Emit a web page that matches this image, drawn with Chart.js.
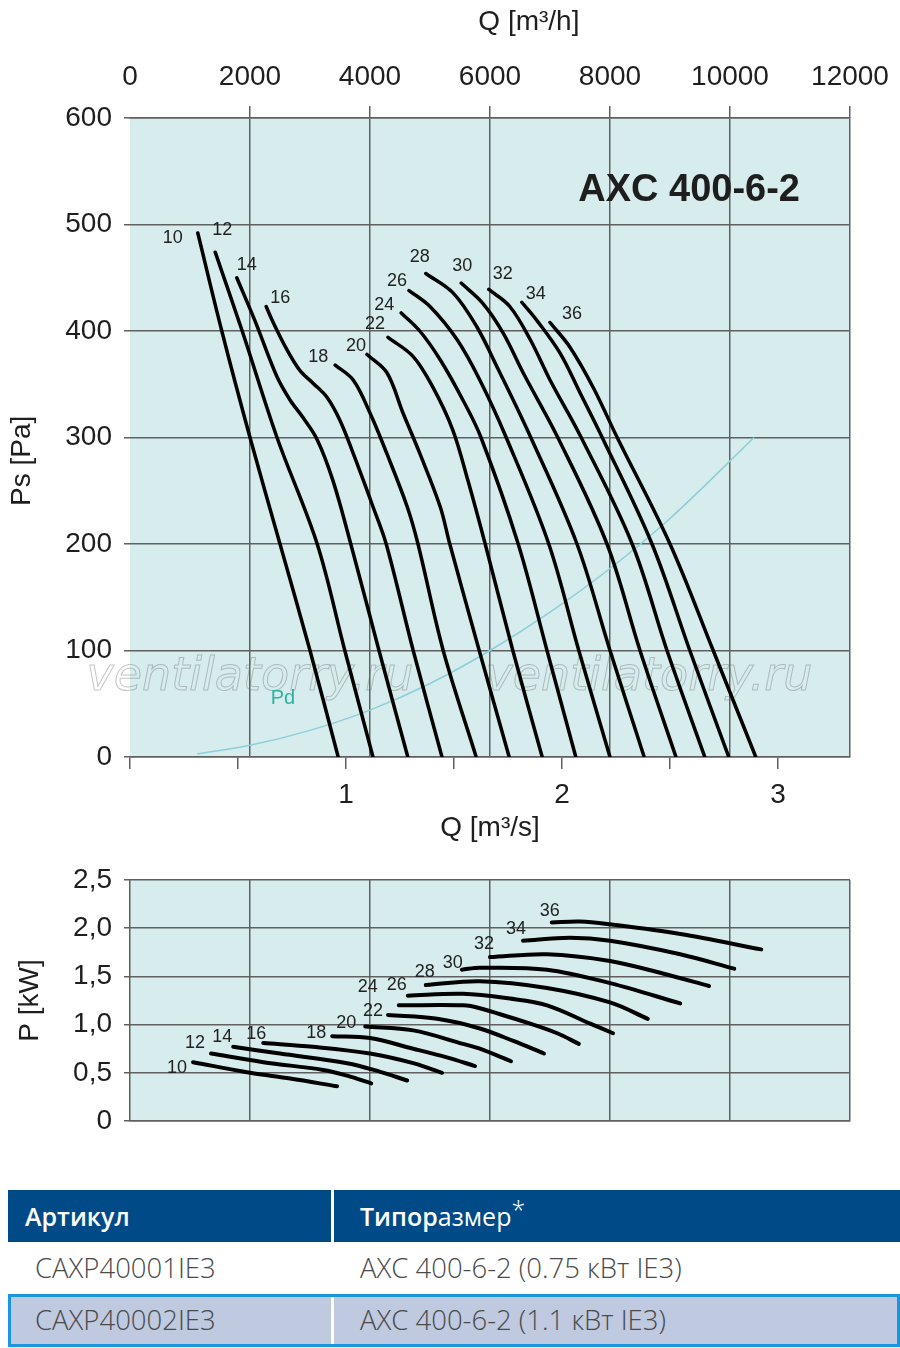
<!DOCTYPE html>
<html>
<head>
<meta charset="utf-8">
<script src="https://cdn.jsdelivr.net/npm/chart.js@4.4.0/dist/chart.umd.min.js"></script>
<style>
body { margin: 0; width: 900px; height: 1348px; background: #fff; position: relative; overflow: hidden; }
#topBox { position: absolute; left: 0; top: 0; width: 900px; height: 850px; }
#botBox { position: absolute; left: 0; top: 850px; width: 900px; height: 300px; }
.cell { position: absolute; font-family: "Open Sans", "Noto Sans", sans-serif; white-space: nowrap; }
.head { background: #004a87; color: #fff; font-size: 25px; font-weight: 600; }
.row { color: #4a4a4a; font-size: 27.5px; font-weight: 300; }
.star { position: relative; top: -7px; font-weight: 300; }
</style>
</head>
<body>
<div id="topBox"><canvas id="psChart"></canvas></div>
<div id="botBox"><canvas id="pwChart"></canvas></div>

<!-- table -->
<div class="cell head" style="left:8px;top:1190px;width:892px;height:52px;"></div>
<div class="cell" style="left:331px;top:1190px;width:3px;height:52px;background:#fff;"></div>
<div class="cell head" style="left:25px;top:1190px;height:52px;line-height:52px;background:none;">Артикул</div>
<div class="cell head" style="left:360px;top:1190px;height:52px;line-height:52px;background:none;"><span style="font-weight:600">Типор</span><span style="font-weight:400">азмер</span><span class="star">*</span></div>

<div class="cell row" style="left:35px;top:1242px;line-height:52px;">CAXP40001IE3</div>
<div class="cell row" style="left:360px;top:1242px;line-height:52px;">AXC 400-6-2 (0.75 кВт IE3)</div>

<div class="cell" style="left:8px;top:1294px;width:886px;height:47px;background:#bfc9e0;border:3px solid #1b95de;"></div>
<div class="cell" style="left:331px;top:1297px;width:3px;height:47px;background:#fff;"></div>
<div class="cell row" style="left:35px;top:1294px;line-height:52px;">CAXP40002IE3</div>
<div class="cell row" style="left:360px;top:1294px;line-height:52px;">AXC 400-6-2 (1.1 кВт IE3)</div>

<script>
// fan speeds (curve labels)
const speeds = [10, 12, 14, 16, 18, 20, 22, 24, 26, 28, 30, 32, 34, 36];

// Ps [Pa] against Q [m3/h]
const ps10 = [[1130,492],[1530,400],[2000,300],[2500,200],[3000,100],[3470,0]];
const ps12 = [[1420,474],[1870,400],[2450,300],[3120,200],[3580,100],[4050,0]];
const ps14 = [[1780,450],[2080,410],[2450,357],[2670,335],[2880,319],[3120,298],[3380,260],[3680,200],[4150,100],[4630,0]];
const ps16 = [[2270,423],[2370,410],[2620,382],[2830,363],[3050,351],[3280,338],[3500,316],[3720,285],[4050,235],[4270,200],[4720,100],[5200,0]];
const ps18 = [[3420,368],[3720,354],[4000,323],[4280,285],[4620,235],[4800,200],[5220,100],[5770,0]];
const ps20 = [[3950,378],[4280,361],[4550,323],[4830,285],[5170,235],[5330,200],[5820,100],[6320,0]];
const ps22 = [[4300,394],[4720,376],[5050,347],[5380,307],[5630,260],[5920,200],[6380,100],[6870,0]];
const ps24 = [[4520,417],[4830,400],[5170,373],[5550,335],[5850,300],[6470,200],[6950,100],[7430,0]];
const ps26 = [[4650,438],[5000,423],[5450,392],[5830,354],[6270,300],[6980,200],[7480,100],[8000,0]];
const ps28 = [[4930,454],[5380,436],[5780,404],[6120,366],[6680,300],[7450,200],[8000,100],[8570,0]];
const ps30 = [[5520,445],[5880,426],[6220,398],[6550,361],[7130,300],[7950,200],[8500,100],[9100,0]];
const ps32 = [[5980,439],[6330,423],[6670,392],[7000,354],[7520,300],[8370,200],[8950,100],[9580,0]];
const ps34 = [[6530,427],[6780,410],[7170,379],[7500,342],[7870,300],[8700,200],[9330,100],[9980,0]];
const ps36 = [[7000,408],[7330,385],[7720,347],[8120,300],[9000,200],[9720,100],[10430,0]];
const psCurves = [ps10, ps12, ps14, ps16, ps18, ps20, ps22, ps24, ps26, ps28, ps30, ps32, ps34, ps36];

// dynamic pressure Pd
const pd = [[1120,3],[2000,11],[3000,25],[4000,44],[5000,69],[6000,100],[7000,136],[8000,177],[9000,224],[10400,300]];

// P [kW] against Q [m3/h]
const pw10 = [[1050,0.61],[2000,0.50],[2670,0.44],[3450,0.36]];
const pw12 = [[1350,0.70],[2220,0.61],[3220,0.53],[3620,0.47],[4020,0.39]];
const pw14 = [[1720,0.77],[2500,0.70],[3620,0.60],[4170,0.51],[4620,0.42]];
const pw16 = [[2220,0.81],[3050,0.77],[4000,0.70],[4720,0.60],[5200,0.50]];
const pw18 = [[3370,0.88],[4000,0.86],[4720,0.75],[5280,0.66],[5750,0.57]];
const pw20 = [[3920,0.98],[4720,0.94],[5550,0.80],[5830,0.75],[6350,0.62]];
const pw22 = [[4300,1.10],[5120,1.06],[5830,0.96],[6390,0.83],[6900,0.70]];
const pw24 = [[4480,1.20],[5550,1.20],[5830,1.17],[6670,1.01],[7120,0.91],[7480,0.80]];
const pw26 = [[4630,1.30],[5550,1.32],[6330,1.27],[6950,1.20],[7670,1.01],[8050,0.91]];
const pw28 = [[4930,1.41],[5830,1.45],[6950,1.38],[8000,1.23],[8630,1.06]];
const pw30 = [[5530,1.57],[5830,1.59],[6950,1.57],[8000,1.43],[9170,1.22]];
const pw32 = [[6000,1.70],[6950,1.73],[8000,1.66],[8880,1.53],[9650,1.40]];
const pw34 = [[6550,1.87],[7330,1.90],[8000,1.87],[9170,1.73],[10070,1.58]];
const pw36 = [[7030,2.06],[7500,2.07],[8000,2.04],[9170,1.94],[10520,1.78]];
const pwCurves = [pw10, pw12, pw14, pw16, pw18, pw20, pw22, pw24, pw26, pw28, pw30, pw32, pw34, pw36];

// where the speed numbers sit next to the first point of each curve (px)
const psLabelOffset = [[-25,5],[7,-22],[10,-13],[14,-8],[-17,-8],[-11,-8],[-13,-13],[-17,-8],[-12,-9],[-6,-16],[1,-17],[14,-15],[14,-8],[22,-8]];
const pwLabelOffset = [[-16,6],[-16,-10],[-11,-10],[-7,-9],[-16,-3],[-19,-3],[-15,-4],[-31,-18],[-11,-11],[-1,-13],[-9,-7],[-6,-13],[-7,-12],[-2,-11]];

Chart.defaults.font.family = '"Liberation Sans", Arial, sans-serif';
Chart.defaults.color = '#1e1e1e';

const gridColor = '#606060';
const plotBg = '#d7ecec';

function toXY(arr) {
    return arr.map(p => ({ x: p[0], y: p[1] }));
}

function curveSets(curves, width) {
    return curves.map((c, i) => ({
        label: String(speeds[i]),
        data: toXY(c),
        borderColor: '#000',
        borderWidth: width,
        borderCapStyle: 'round',
        pointRadius: 0,
        showLine: true,
        tension: 0.35
    }));
}

const plotBackground = {
    id: 'plotBackground',
    beforeDraw(chart) {
        const a = chart.chartArea;
        const ctx = chart.ctx;
        ctx.save();
        ctx.fillStyle = plotBg;
        ctx.fillRect(a.left, a.top, a.right - a.left, a.bottom - a.top);
        ctx.restore();
    }
};

function speedLabels(curves, offsets) {
    return {
        id: 'speedLabels',
        afterDatasetsDraw(chart) {
            const ctx = chart.ctx;
            const xs = chart.scales.x, ys = chart.scales.y;
            ctx.save();
            ctx.font = '18px "Liberation Sans", Arial, sans-serif';
            ctx.fillStyle = '#222';
            ctx.textAlign = 'center';
            ctx.textBaseline = 'middle';
            curves.forEach((c, i) => {
                const px = xs.getPixelForValue(c[0][0]) + offsets[i][0];
                const py = ys.getPixelForValue(c[0][1]) + offsets[i][1];
                ctx.fillText(String(speeds[i]), px, py);
            });
            ctx.restore();
        }
    };
}

const watermark = {
    id: 'watermark',
    beforeDatasetsDraw(chart) {
        const ctx = chart.ctx;
        const a = chart.chartArea;
        ctx.save();
        ctx.font = 'italic 46px "DejaVu Sans", sans-serif';
        ctx.strokeStyle = 'rgba(110,110,110,0.4)';
        ctx.lineWidth = 1;
        ctx.textAlign = 'center';
        ctx.textBaseline = 'middle';
        ctx.strokeText('ventilatorry.ru', a.left + 120, a.bottom - 79);
        ctx.strokeText('ventilatorry.ru', a.left + 519, a.bottom - 79);
        ctx.restore();
    }
};

const extraText = {
    id: 'extraText',
    afterDatasetsDraw(chart) {
        const ctx = chart.ctx;
        const a = chart.chartArea;
        const xs = chart.scales.x, ys = chart.scales.y;
        ctx.save();
        ctx.font = 'bold 38px "Liberation Sans", Arial, sans-serif';
        ctx.fillStyle = '#1e1e1e';
        ctx.textAlign = 'right';
        ctx.textBaseline = 'middle';
        ctx.fillText('AXC 400-6-2', a.right - 50, a.top + 73);
        ctx.font = '20px "Liberation Sans", Arial, sans-serif';
        ctx.fillStyle = '#2bb3a3';
        ctx.textAlign = 'center';
        ctx.fillText('Pd', xs.getPixelForValue(2550), ys.getPixelForValue(55));
        ctx.restore();
    }
};

function noPad(s) {
    s.paddingLeft = 0; s.paddingRight = 0; s.paddingTop = 0; s.paddingBottom = 0;
}

const psSets = curveSets(psCurves, 3.5);
psSets.push({
    label: 'Pd',
    data: toXY(pd),
    borderColor: '#8ccfdb',
    borderWidth: 1.5,
    pointRadius: 0,
    showLine: true,
    cubicInterpolationMode: 'monotone'
});

new Chart(document.getElementById('psChart'), {
    type: 'scatter',
    data: { datasets: psSets },
    options: {
        responsive: true,
        maintainAspectRatio: false,
        animation: false,
        layout: { padding: { right: 50 } },
        plugins: { legend: { display: false }, tooltip: { enabled: false } },
        scales: {
            x: {
                type: 'linear',
                position: 'top',
                min: 0, max: 12000,
                ticks: { stepSize: 2000, font: { size: 28 }, padding: 12, callback: v => String(v) },
                grid: {
                    color: c => (c.tick && c.tick.value === 0) ? 'rgba(0,0,0,0)' : gridColor,
                    lineWidth: 1.5,
                    tickLength: 12
                },
                border: { display: true, color: gridColor, width: 1.5 },
                title: { display: true, text: '          Q [m³/h]', font: { size: 28 }, padding: { top: 5, bottom: 0 } },
                afterFit: s => { s.height = 118; noPad(s); }
            },
            x2: {
                type: 'linear',
                position: 'bottom',
                min: 0, max: 12000 / 3600,
                ticks: {
                    stepSize: 0.5, includeBounds: false, font: { size: 28 }, padding: 9, autoSkip: false,
                    callback: v => (v > 0.5 && Math.abs(v - Math.round(v)) < 1e-6) ? String(Math.round(v)) : ''
                },
                grid: { drawOnChartArea: false, color: gridColor, lineWidth: 1.5, tickLength: 12 },
                border: { display: true, color: gridColor, width: 1.5 },
                title: { display: true, text: 'Q [m³/s]', font: { size: 28 }, padding: { top: 0, bottom: 5 } },
                afterFit: s => { s.height = 93; noPad(s); }
            },
            y: {
                type: 'linear',
                min: 0, max: 600,
                ticks: { stepSize: 100, font: { size: 28 }, padding: 12, callback: v => String(v) },
                grid: { color: gridColor, lineWidth: 1.5, tickLength: 6 },
                border: { display: false },
                title: { display: true, text: 'Ps [Pa]      ', font: { size: 28 }, padding: { top: 5, bottom: 0 } },
                afterFit: s => { s.width = 130; noPad(s); }
            }
        }
    },
    plugins: [plotBackground, watermark, speedLabels(psCurves, psLabelOffset), extraText]
});

new Chart(document.getElementById('pwChart'), {
    type: 'scatter',
    data: { datasets: curveSets(pwCurves, 4) },
    options: {
        responsive: true,
        maintainAspectRatio: false,
        animation: false,
        layout: { padding: { top: 30, right: 50 } },
        plugins: { legend: { display: false }, tooltip: { enabled: false } },
        scales: {
            x: {
                type: 'linear',
                position: 'bottom',
                min: 0, max: 12000,
                ticks: { stepSize: 2000, display: false },
                grid: { color: gridColor, lineWidth: 1.5, drawTicks: false },
                border: { display: true, color: gridColor, width: 1.5 },
                afterFit: s => { s.height = 29; noPad(s); }
            },
            y: {
                type: 'linear',
                min: 0, max: 2.5,
                ticks: {
                    stepSize: 0.5, font: { size: 28 }, padding: 12,
                    callback: v => v === 0 ? '0' : v.toFixed(1).replace('.', ',')
                },
                grid: { color: gridColor, lineWidth: 1.5, tickLength: 6 },
                border: { display: false },
                title: { display: true, text: 'P [kW]', font: { size: 28 }, padding: { top: 13, bottom: 0 } },
                afterFit: s => { s.width = 130; noPad(s); }
            }
        }
    },
    plugins: [plotBackground, speedLabels(pwCurves, pwLabelOffset)]
});
</script>
</body>
</html>
